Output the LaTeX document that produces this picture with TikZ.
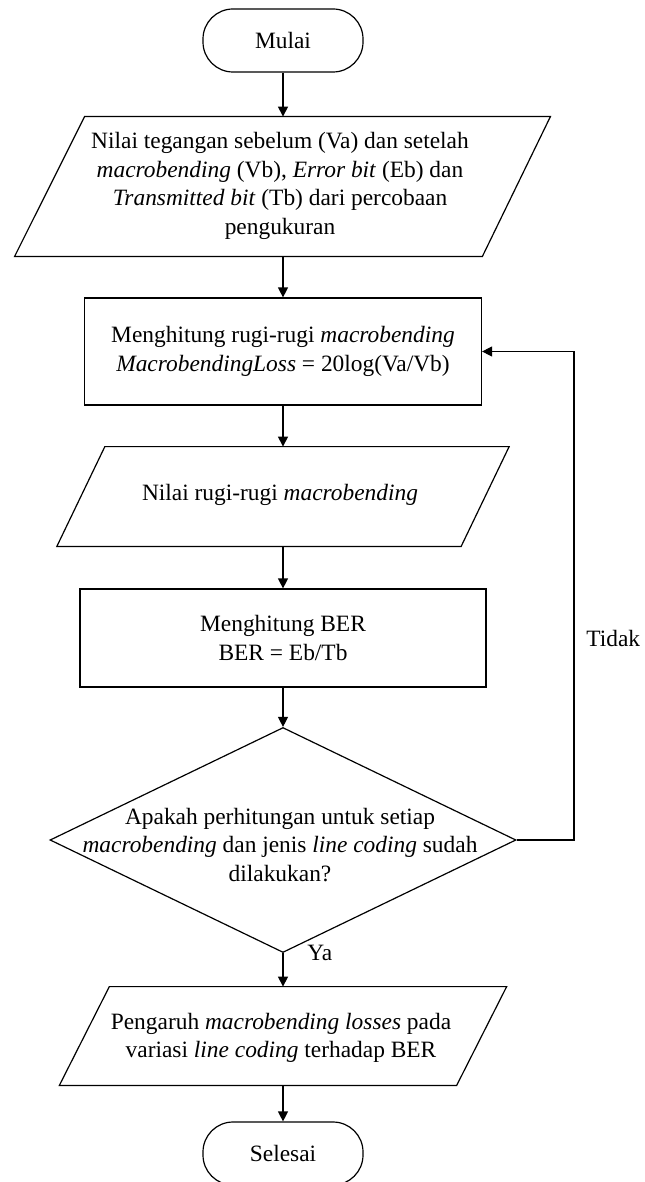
\documentclass[tikz,border=0pt]{standalone}
\usepackage{fontspec}
\setmainfont{Liberation Serif}
\usetikzlibrary{arrows.meta,shapes.geometric,calc}
\tikzset{
  every node/.style={font=\fontsize{11.7}{14.3}\selectfont},
  term/.style={draw, line width=0.6pt, rounded corners=15pt, minimum width=80pt, minimum height=31.5pt, inner sep=0pt},
  procbox/.style={draw, line width=0.6pt, inner sep=0pt, align=center},
  iobox/.style={inner sep=0pt, align=center},
  iodraw/.style={draw, line width=0.6pt},
  decision/.style={draw, diamond, line width=0.6pt, inner sep=0pt, minimum width=233pt, minimum height=112.5pt},
  arr/.style={line width=0.6pt, -{Triangle[length=5pt,width=5pt]}},
  lbl/.style={inner sep=0pt}
}
\begin{document}
\begin{tikzpicture}[x=0.5pt,y=-0.5pt]
\useasboundingbox (0,0) rectangle (644,1182);
% start
\node[term] (m) at (283,40.5) {Mulai};
% input 1
\node[iobox, minimum width=233pt, minimum height=69.5pt] (p1) at (283,186.5) {};
\draw[iodraw] ($(p1.north west)+(35,0)$) -- ($(p1.north east)+(34,0)$) -- ($(p1.south east)+(-34,0)$) -- ($(p1.south west)+(-35,0)$) -- cycle;
\node[iobox] (p1t) at (280,186) {Nilai tegangan sebelum (Va) dan setelah\\ \textit{macrobending} (Vb), \textit{Error bit} (Eb) dan\\ \textit{Transmitted bit} (Tb) dari percobaan\\ pengukuran};
% process 1
\node[procbox, minimum width=198.5pt, minimum height=53.5pt] (r1) at (283,351.5) {Menghitung rugi-rugi \textit{macrobending}\\ \textit{MacrobendingLoss} = 20log(Va/Vb)};
% output 2
\node[iobox, minimum width=201.75pt, minimum height=49.5pt] (p2) at (283,496.5) {};
\draw[iodraw] ($(p2.north west)+(24,0)$) -- ($(p2.north east)+(24,0)$) -- ($(p2.south east)+(-24,0)$) -- ($(p2.south west)+(-24,0)$) -- cycle;
\node[iobox] (p2t) at (280,495) {Nilai rugi-rugi \textit{macrobending}};
% process 2
\node[procbox, minimum width=203pt, minimum height=49pt] (r2) at (283,638) {Menghitung BER\\ BER = Eb/Tb};
% decision
\node[decision] (d) at (283,840) {};
\node[iobox] (dt) at (280,845) {Apakah perhitungan untuk setiap\\ \textit{macrobending} dan jenis \textit{line coding} sudah\\ dilakukan?};
% output 3
\node[iobox, minimum width=198.25pt, minimum height=49pt] (p3) at (283,1036) {};
\draw[iodraw] ($(p3.north west)+(25,0)$) -- ($(p3.north east)+(25,0)$) -- ($(p3.south east)+(-25,0)$) -- ($(p3.south west)+(-25,0)$) -- cycle;
\node[iobox] (p3t) at (281,1038) {Pengaruh \textit{macrobending losses} pada\\ variasi \textit{line coding} terhadap BER};
% end
\node[term] (s) at (283,1153.5) {Selesai};
% connectors
\draw[arr] (m.south) -- (p1.north);
\draw[arr] (p1.south) -- (r1.north);
\draw[arr] (r1.south) -- (p2.north);
\draw[arr] (p2.south) -- (r2.north);
\draw[arr] (r2.south) -- (d.north);
\draw[arr] (d.south) -- (p3.north);
\draw[arr] (p3.south) -- (s.north);
\coordinate (fb) at (574,840);
\draw[arr] (d.east) -- (fb) |- (r1.east);
% labels
\node[lbl, anchor=west] (ya) at (307,953) {Ya};
\node[lbl, anchor=west] (tidak) at (586,638) {Tidak};
\end{tikzpicture}
\end{document}
